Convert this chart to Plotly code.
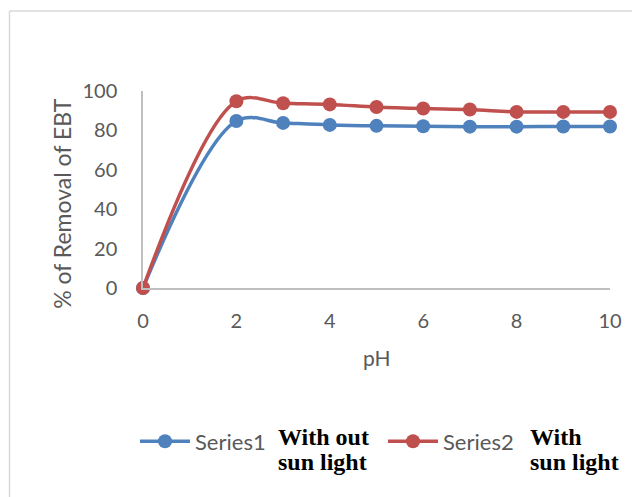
import plotly.graph_objects as go

ph = [0, 2, 3, 4, 5, 6, 7, 8, 9, 10]
series1 = [0, 84.8, 83.8, 82.8, 82.3, 82.1, 81.9, 81.9, 82.0, 82.0]
series2 = [0, 94.8, 93.8, 93.2, 91.9, 91.1, 90.6, 89.4, 89.4, 89.4]
names = ["Series1", "Series2"]
colors = ["#4F81BD", "#C0504D"]
notes = [["With out", "sun light"], ["With", "sun light"]]
x_ticks = [0, 2, 4, 6, 8, 10]
y_ticks = [0, 20, 40, 60, 80, 100]

OFF = 8  # page body margin
W, H = 640, 497
# target plot area in page pixels: x 143..610, y 90.7..288.3
L = 143 - OFF
T = 91 - OFF
R = W - (610 - OFF)
B = H - (288.3 - OFF)
pw, ph_ = W - L - R, H - T - B

def px(xp):
    return (xp - OFF - L) / pw

def py(yp):
    return (H - B - (yp - OFF)) / ph_

font = "Lato, Open Sans, sans-serif"
gray = "#595959"

fig = go.Figure()
legend_ids = ["legend", "legend2"]
legend_x = [135, 383]
for ys, nm, c, lg in zip([series1, series2], names, colors, legend_ids):
    fig.add_trace(go.Scatter(
        x=ph, y=ys, name=nm, mode="lines+markers", legend=lg,
        line=dict(color=c, width=3.5, shape="spline", smoothing=1.0),
        marker=dict(color=c, size=14),
        cliponaxis=False,
    ))

legend_common = dict(orientation="h", xanchor="left", yanchor="middle", itemwidth=50,
                     font=dict(family=font, size=22, color=gray), bgcolor="rgba(0,0,0,0)")

fig.update_layout(
    width=W, height=H,
    margin=dict(l=L, r=R, t=T, b=B, autoexpand=False),
    paper_bgcolor="white", plot_bgcolor="white",
    font=dict(family=font, color=gray, size=20),
    showlegend=True,
    legend=dict(x=px(legend_x[0]), y=py(442), **legend_common),
    legend2=dict(x=px(legend_x[1]), y=py(442), **legend_common),
    xaxis=dict(range=[0, 10], tickvals=x_ticks, showgrid=False, zeroline=False,
               showline=True, linecolor="#BFBFBF", linewidth=1.5,
               ticks="outside", ticklen=14, tickcolor="rgba(0,0,0,0)",
               tickfont=dict(size=20, color=gray)),
    yaxis=dict(range=[0, 100], tickvals=y_ticks, showgrid=False, zeroline=False,
               showline=True, linecolor="#BFBFBF", linewidth=1.5,
               ticks="outside", ticklen=20, tickcolor="rgba(0,0,0,0)",
               tickfont=dict(size=20, color=gray)),
)

# axis titles
fig.add_annotation(text="pH", xref="paper", yref="paper", x=px(377), y=py(358),
                   xanchor="center", yanchor="middle",
                   showarrow=False, font=dict(size=21, color=gray, family=font))
fig.add_annotation(text="% of Removal of EBT", xref="paper", yref="paper", x=px(62), y=py(204),
                   xanchor="center", yanchor="middle",
                   showarrow=False, textangle=-90, font=dict(size=23, color=gray, family=font))

# bold legend notes
for xs, lines in zip([276, 528], notes):
    for yy, t in zip([438, 463], lines):
        fig.add_annotation(text="<b>" + t + "</b>", xref="paper", yref="paper",
                           x=px(xs), y=py(yy), xanchor="left", yanchor="middle",
                           showarrow=False,
                           font=dict(family="Liberation Serif, Times New Roman, serif", size=24, color="black"))

# outer border
fig.add_shape(type="line", xref="paper", yref="paper", x0=px(9.5), x1=px(9.5), y0=py(11), y1=py(520),
              line=dict(color="#D9D9D9", width=1.5))
fig.add_shape(type="line", xref="paper", yref="paper", x0=px(9.5), x1=px(660), y0=py(11), y1=py(11),
              line=dict(color="#D9D9D9", width=1.5))

fig.write_html("out.html")
